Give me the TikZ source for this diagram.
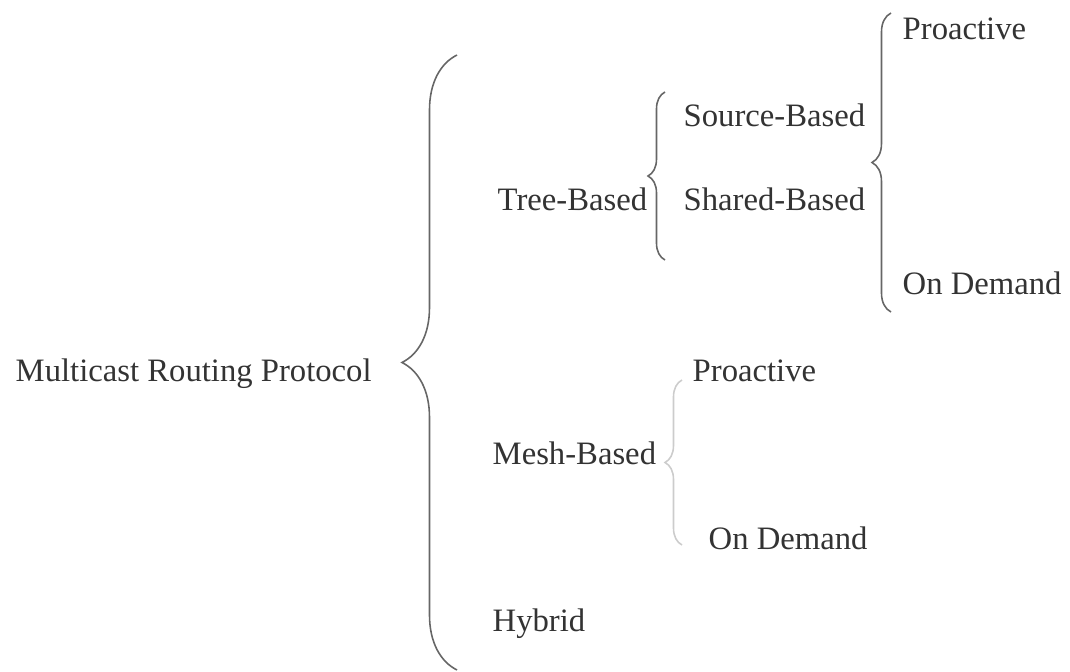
\documentclass[tikz,border=0pt]{standalone}
\usepackage{fontspec}
\setmainfont{Liberation Serif}
\usepackage{tikz}
\usetikzlibrary{decorations.pathreplacing}

\begin{document}
\begin{tikzpicture}[
        item/.style={anchor=base west, inner sep=0pt, text=black!80, font=\fontsize{9.3}{11}\selectfont},
        curly/.style={decorate, decoration={brace, amplitude=#1}, draw=black!60, line width=0.45pt}
    ]
        \useasboundingbox (0,0) rectangle (10.70,6.72);

        \node[item] (mrp) at (0.15,2.90) {Multicast Routing Protocol};

        \node[item] (tree) at (4.97,4.61) {Tree-Based};
        \node[item] (mesh) at (4.92,2.07) {Mesh-Based};
        \node[item] (hybrid) at (4.92,0.40) {Hybrid};

        \node[item] (source) at (6.83,5.45) {Source-Based};
        \node[item] (shared) at (6.83,4.61) {Shared-Based};

        \node[item] (treepro) at (9.02,6.32) {Proactive};
        \node[item] (treedem) at (9.02,3.77) {On Demand};

        \node[item] (meshpro) at (6.92,2.90) {Proactive};
        \node[item] (meshdem) at (7.08,1.22) {On Demand};

        % brace ends
        \coordinate (mrpbot) at (4.57,0.02);
        \coordinate (mrptop) at (4.57,6.17);
        \coordinate (treebot) at (6.65,4.12);
        \coordinate (treetop) at (6.65,5.80);
        \coordinate (srcbot) at (8.91,3.60);
        \coordinate (srctop) at (8.91,6.59);
        \coordinate (meshbot) at (6.82,1.27);
        \coordinate (meshtop) at (6.82,2.92);

        \draw[curly=0.55cm] (mrpbot) -- (mrptop);
        \draw[curly=0.17cm] (treebot) -- (treetop);
        \draw[curly=0.19cm] (srcbot) -- (srctop);
        \draw[curly=0.17cm, draw=black!20] (meshbot) -- (meshtop);
\end{tikzpicture}
\end{document}
